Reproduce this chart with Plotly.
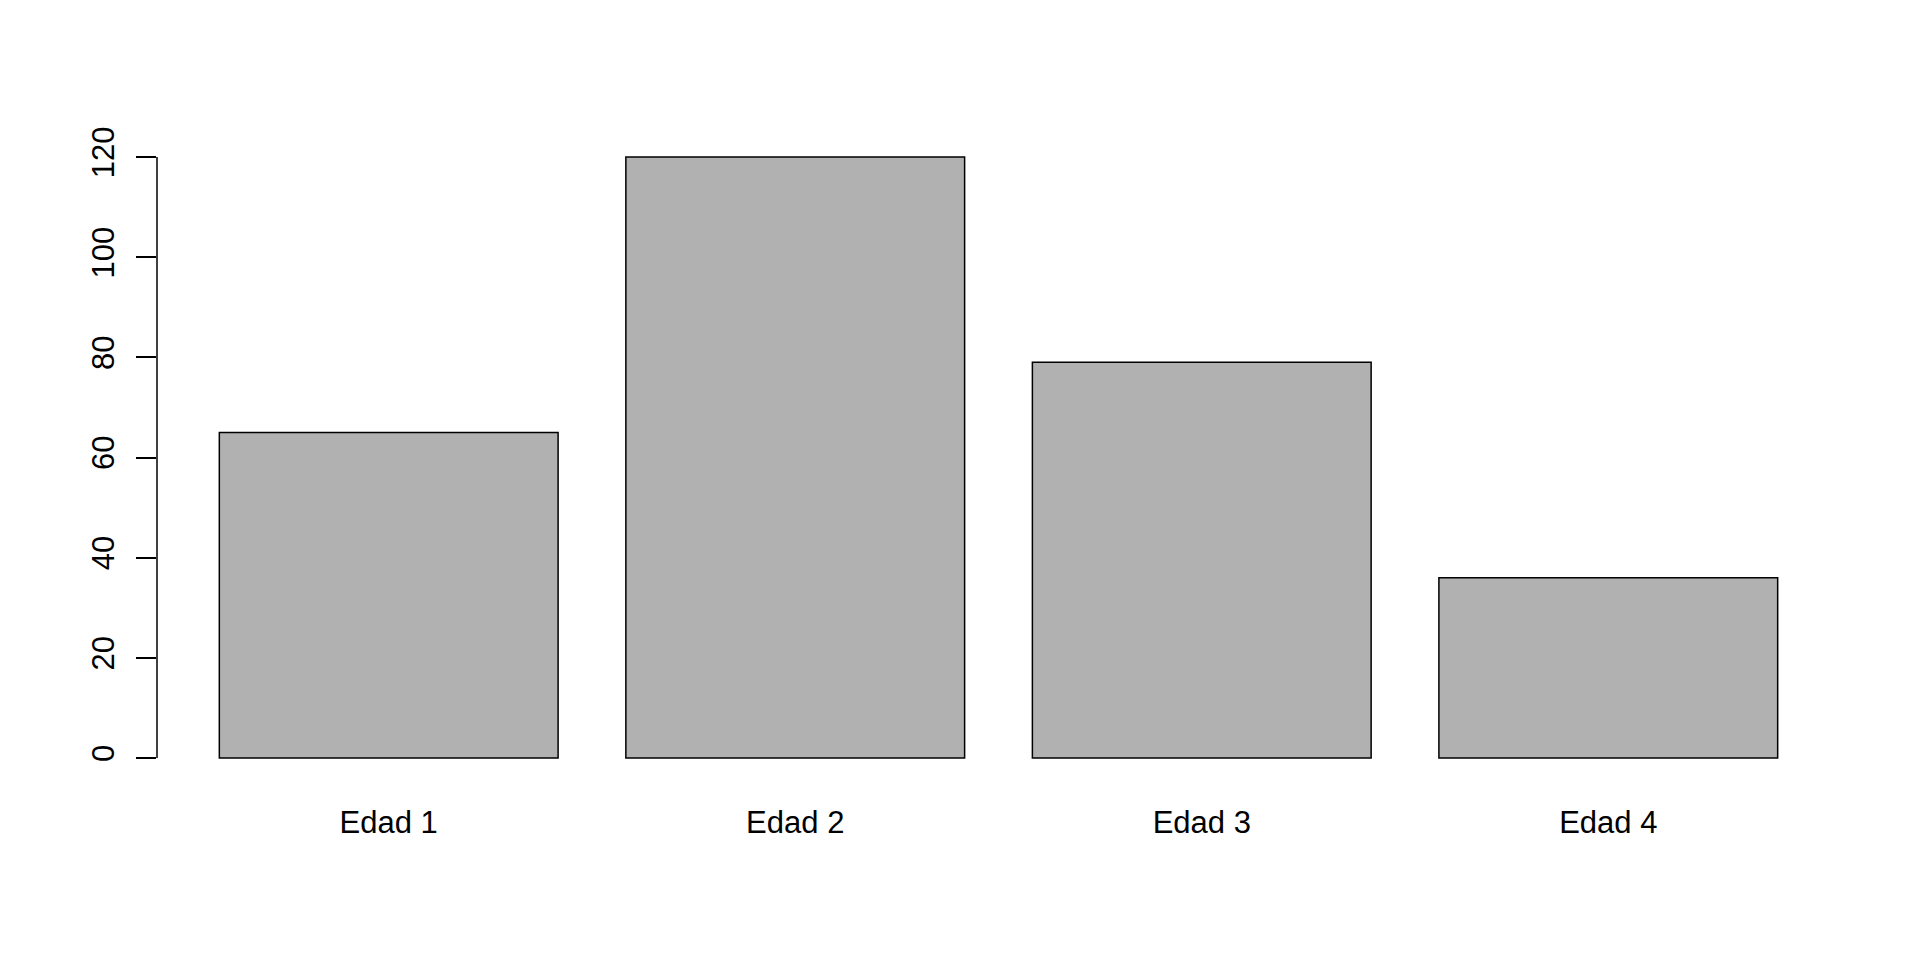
import plotly.graph_objects as go

categories = ["Edad 1", "Edad 2", "Edad 3", "Edad 4"]
counts = [65, 120, 79, 36]
y_ticks = [0, 20, 40, 60, 80, 100, 120]

font = dict(family="Liberation Sans, Arial, sans-serif", size=31, color="black")

fig = go.Figure(
    go.Bar(
        x=categories,
        y=counts,
        marker=dict(color="#b1b1b1", line=dict(color="black", width=1.5)),
    )
)

fig.update_layout(
    width=1920,
    height=960,
    margin=dict(l=149, r=88, t=125, b=186),
    paper_bgcolor="white",
    plot_bgcolor="white",
    bargap=1 / 6,
    showlegend=False,
    font=font,
    xaxis=dict(
        type="category",
        range=[-0.57, 3.57],
        showgrid=False,
        showline=False,
        zeroline=False,
        ticks="",
        tickfont=font,
        ticklabelstandoff=19,
    ),
    yaxis=dict(
        range=[-4.8, 124.8],
        tickvals=y_ticks,
        showgrid=False,
        zeroline=False,
        showline=False,
        ticks="outside",
        ticklen=20,
        tickwidth=1.5,
        tickcolor="black",
        tickangle=-90,
        tickfont=font,
        ticklabelstandoff=10,
    ),
    shapes=[
        # R-style axis line spanning only the tick range
        dict(type="line", xref="paper", yref="y", x0=0, x1=0,
             y0=y_ticks[0], y1=y_ticks[-1],
             line=dict(color="black", width=1.5)),
    ],
)

fig.write_html("out.html")
